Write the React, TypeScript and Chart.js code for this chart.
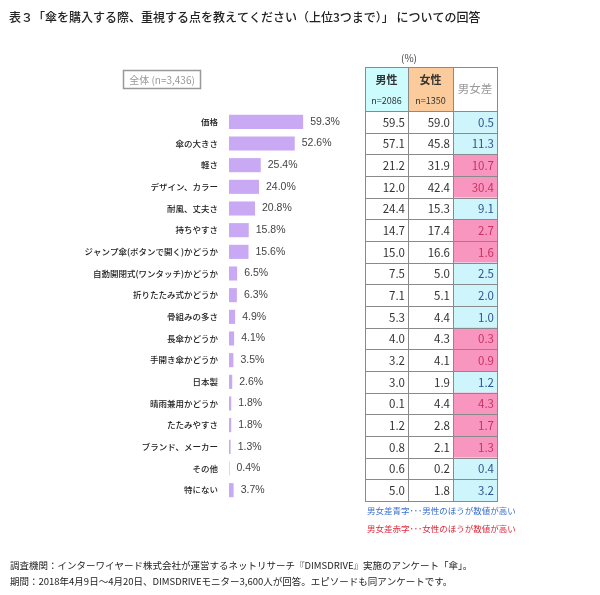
import React, { useEffect, useRef } from 'react';
import { Chart, registerables } from 'chart.js';
Chart.register(...registerables);

const titleText = '表３「傘を購入する際、重視する点を教えてください（上位3つまで）」 についての回答';
const totalLabel = '全体 (n=3,436)';
const categories = [
  '価格', '傘の大きさ', '軽さ', 'デザイン、カラー', '耐風、丈夫さ', '持ちやすさ',
  'ジャンプ傘(ボタンで開く)かどうか', '自動開閉式(ワンタッチ)かどうか', '折りたたみ式かどうか',
  '骨組みの多さ', '長傘かどうか', '手開き傘かどうか', '日本製', '晴雨兼用かどうか',
  'たたみやすさ', 'ブランド、メーカー', 'その他', '特にない',
];
const totalValues = [59.3, 52.6, 25.4, 24.0, 20.8, 15.8, 15.6, 6.5, 6.3, 4.9, 4.1, 3.5, 2.6, 1.8, 1.8, 1.3, 0.4, 3.7];
const maleValues = [59.5, 57.1, 21.2, 12.0, 24.4, 14.7, 15.0, 7.5, 7.1, 5.3, 4.0, 3.2, 3.0, 0.1, 1.2, 0.8, 0.6, 5.0];
const femaleValues = [59.0, 45.8, 31.9, 42.4, 15.3, 17.4, 16.6, 5.0, 5.1, 4.4, 4.3, 4.1, 1.9, 4.4, 2.8, 2.1, 0.2, 1.8];
const diffValues = [0.5, 11.3, 10.7, 30.4, 9.1, 2.7, 1.6, 2.5, 2.0, 1.0, 0.3, 0.9, 1.2, 4.3, 1.7, 1.3, 0.4, 3.2];
const headerMale = ['男性', 'n=2086'];
const headerFemale = ['女性', 'n=1350'];
const headerDiff = '男女差';
const unitLabel = '(%)';
const noteBlue = '男女差青字･･･男性のほうが数値が高い';
const noteRed = '男女差赤字･･･女性のほうが数値が高い';
const footerLines = [
  '調査機関：インターワイヤード株式会社が運営するネットリサーチ『DIMSDRIVE』実施のアンケート「傘」。',
  '期間：2018年4月9日～4月20日、DIMSDRIVEモニター3,600人が回答。エピソードも同アンケートです。',
];

const JP = '"Noto Sans CJK JP", "Noto Sans", sans-serif';
const COLS = [365, 408, 453, 497];
const HEADER_TOP = 67;

const overlay = {
  id: 'overlay',
  afterDatasetsDraw(chart: any) {
    const ctx = chart.ctx;
    const meta = chart.getDatasetMeta(0);
    ctx.save();
    ctx.font = '10.5px "Liberation Sans", Arial, sans-serif';
    ctx.fillStyle = '#444';
    ctx.textBaseline = 'middle';
    ctx.textAlign = 'left';
    meta.data.forEach((bar: any, i: number) => {
      ctx.fillText(totalValues[i].toFixed(1) + '%', bar.x + 7, bar.y);
    });
    ctx.restore();
  },
  afterDraw(chart: any) {
    const ctx = chart.ctx;
    const yScale = chart.scales.y;
    const area = chart.chartArea;
    const rowH = (area.bottom - area.top) / categories.length;
    ctx.save();

    // title
    ctx.fillStyle = '#222';
    ctx.font = '500 12px ' + JP;
    ctx.textBaseline = 'middle';
    ctx.textAlign = 'left';
    ctx.fillText(titleText, 9, 17);

    // total box
    ctx.strokeStyle = '#999';
    ctx.lineWidth = 1.5;
    ctx.strokeRect(123.5, 70.5, 77, 18);
    ctx.fillStyle = '#999';
    ctx.font = '10px ' + JP;
    ctx.textAlign = 'center';
    ctx.fillText(totalLabel, 162, 80);

    // unit
    ctx.fillStyle = '#444';
    ctx.font = '10px ' + JP;
    ctx.fillText(unitLabel, 409, 58);

    // header
    const hb = area.top;
    ctx.fillStyle = '#ccfcfd';
    ctx.fillRect(COLS[0], HEADER_TOP, COLS[1] - COLS[0], hb - HEADER_TOP);
    ctx.fillStyle = '#fccb9c';
    ctx.fillRect(COLS[1], HEADER_TOP, COLS[2] - COLS[1], hb - HEADER_TOP);
    ctx.fillStyle = '#333';
    ctx.font = 'bold 11px ' + JP;
    ctx.fillText(headerMale[0], (COLS[0] + COLS[1]) / 2, 80);
    ctx.fillText(headerFemale[0], (COLS[1] + COLS[2]) / 2, 80);
    ctx.font = '9px ' + JP;
    ctx.fillText(headerMale[1], (COLS[0] + COLS[1]) / 2, 101);
    ctx.fillText(headerFemale[1], (COLS[1] + COLS[2]) / 2, 101);
    ctx.fillStyle = '#999';
    ctx.font = '11.5px ' + JP;
    ctx.fillText(headerDiff, (COLS[2] + COLS[3]) / 2, 89);

    // rows
    categories.forEach((_, i) => {
      const cy = yScale.getPixelForValue(i);
      const top = cy - rowH / 2;
      const maleHigher = maleValues[i] > femaleValues[i];
      ctx.fillStyle = maleHigher ? '#cdf5fb' : '#f996bf';
      ctx.fillRect(COLS[2], top, COLS[3] - COLS[2], rowH);
      ctx.font = '11.5px ' + JP;
      ctx.textAlign = 'right';
      ctx.fillStyle = '#333';
      ctx.fillText(maleValues[i].toFixed(1), COLS[1] - 3, cy + 0.5);
      ctx.fillText(femaleValues[i].toFixed(1), COLS[2] - 3, cy + 0.5);
      ctx.fillStyle = maleHigher ? '#2f5490' : '#c83262';
      ctx.fillText(diffValues[i].toFixed(1), COLS[3] - 3, cy + 0.5);
    });

    // grid lines
    ctx.strokeStyle = '#8a8a8a';
    ctx.lineWidth = 1;
    ctx.beginPath();
    COLS.forEach((x) => {
      ctx.moveTo(x + 0.5, HEADER_TOP);
      ctx.lineTo(x + 0.5, area.bottom);
    });
    ctx.moveTo(COLS[0], HEADER_TOP + 0.5);
    ctx.lineTo(COLS[3] + 1, HEADER_TOP + 0.5);
    categories.forEach((_, i) => {
      const cy = yScale.getPixelForValue(i);
      const top = Math.round(cy - rowH / 2) + 0.5;
      ctx.moveTo(COLS[0], top);
      ctx.lineTo(COLS[3] + 1, top);
    });
    ctx.moveTo(COLS[0], Math.round(area.bottom) + 0.5);
    ctx.lineTo(COLS[3] + 1, Math.round(area.bottom) + 0.5);
    ctx.stroke();

    // notes
    ctx.textAlign = 'left';
    ctx.font = '8.5px ' + JP;
    ctx.fillStyle = '#3b6fd0';
    ctx.fillText(noteBlue, 367, 511);
    ctx.fillStyle = '#e0283c';
    ctx.fillText(noteRed, 367, 529);

    // footer
    ctx.fillStyle = '#222';
    ctx.font = '9.5px ' + JP;
    footerLines.forEach((t, i) => ctx.fillText(t, 10, 565 + i * 16));

    ctx.restore();
  },
};

export default function App() {
  const ref = useRef<HTMLCanvasElement>(null);
  useEffect(() => {
    if (!ref.current) return;
    const chart = new Chart(ref.current, {
      type: 'bar',
      data: {
        labels: categories,
        datasets: [
          {
            data: totalValues,
            backgroundColor: '#c9a8f4',
            borderWidth: 0,
            barPercentage: 0.65,
            categoryPercentage: 1,
          },
        ],
      },
      options: {
        indexAxis: 'y',
        animation: false,
        responsive: false,
        maintainAspectRatio: false,
        layout: { padding: { top: 111, bottom: 94, left: 0, right: 246 } },
        plugins: { legend: { display: false }, tooltip: { enabled: false } },
        scales: {
          x: { display: false, min: 0, max: 100 },
          y: {
            grid: { display: false },
            border: { display: false },
            ticks: {
              color: '#222',
              padding: 3,
              font: { family: JP, size: 8.5, weight: '500' },
              autoSkip: false,
            },
            afterFit: (s: any) => {
              s.width = 229;
            },
          },
        },
      },
      plugins: [overlay],
    });
    return () => chart.destroy();
  }, []);
  return (
    <div style={{ position: 'absolute', left: 0, top: 0, width: 600, height: 595, background: '#fff' }}>
      <canvas ref={ref} width={600} height={595} />
    </div>
  );
}
